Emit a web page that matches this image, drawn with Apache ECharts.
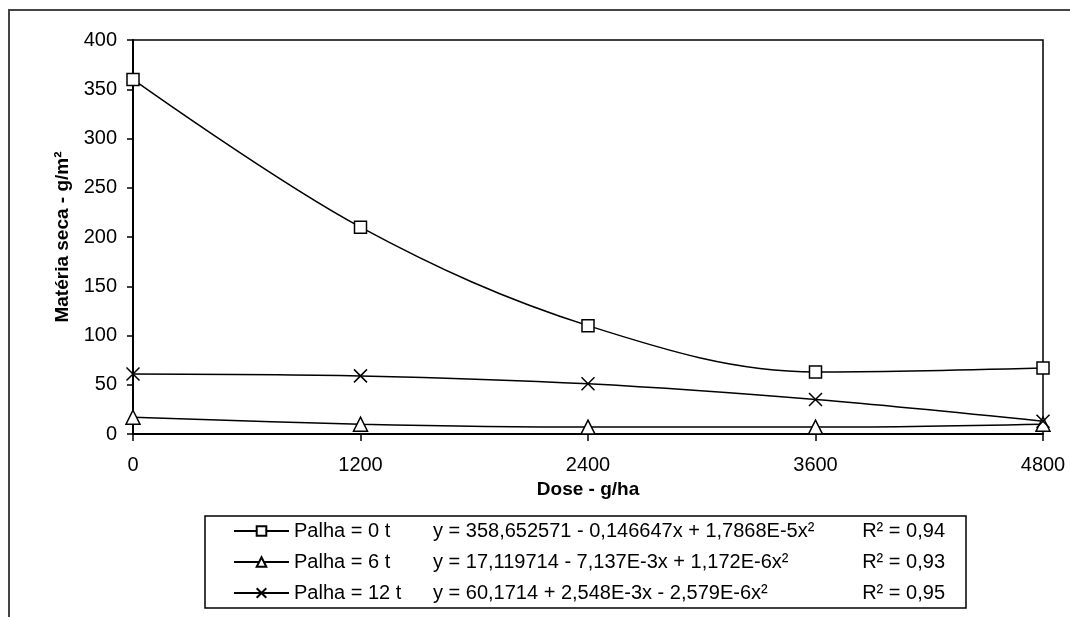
<!DOCTYPE html>
<html>
<head>
<meta charset="utf-8">
<script src="https://cdn.jsdelivr.net/npm/echarts@6/dist/echarts.min.js"></script>
<style>
  html, body { margin: 0; padding: 0; background: #fff; }
  #chart { width: 1070px; height: 617px; }
</style>
</head>
<body>
<div id="chart"></div>
<script>
// doses (g/ha) and dry matter (g/m²)
const doses = [0, 1200, 2400, 3600, 4800];
const palha0 = [360, 210, 110, 63, 67];
const palha6 = [17, 10, 7, 7, 10];
const palha12 = [61, 59, 51, 35, 13];

const names = ['Palha = 0 t', 'Palha = 6 t', 'Palha = 12 t'];
const equations = [
  'y = 358,652571 - 0,146647x + 1,7868E-5x²',
  'y = 17,119714 - 7,137E-3x + 1,172E-6x²',
  'y = 60,1714 + 2,548E-3x - 2,579E-6x²'
];
const r2 = ['R² = 0,94', 'R² = 0,93', 'R² = 0,95'];

const xTicks = [0, 1200, 2400, 3600, 4800];

const font = 'Liberation Sans, Arial, sans-serif';
const pairs = vals => doses.map((d, i) => [d, vals[i]]);

function lineSeries(name, vals, symbol, size) {
  return {
    name: name,
    type: 'line',
    data: pairs(vals),
    smooth: 0.35,
    symbol: symbol,
    symbolSize: size,
    showAllSymbol: true,
    lineStyle: { color: '#000', width: 1.5 },
    itemStyle: { color: '#fff', borderColor: '#000', borderWidth: 1.5 },
    emphasis: { disabled: true },
    z: 3
  };
}

const myChart = echarts.init(document.getElementById('chart'));
myChart.setOption({
  animation: false,
  backgroundColor: '#fff',
  textStyle: { fontFamily: font },
  graphic: [{
    type: 'rect',
    shape: { x: 9, y: 10, width: 1200, height: 800 },
    style: { fill: 'none', stroke: '#444', lineWidth: 2 },
    silent: true
  }],
  grid: {
    left: 133, right: 27, top: 40, bottom: 183,
    show: true, borderColor: '#000', borderWidth: 1.5,
    backgroundColor: 'transparent'
  },
  xAxis: {
    type: 'value',
    min: 0, max: 4800, interval: 1200,
    name: 'Dose - g/ha',
    nameLocation: 'middle',
    nameGap: 45,
    nameTextStyle: { fontSize: 19, fontWeight: 'bold', color: '#000', fontFamily: font },
    axisLine: { show: true, lineStyle: { color: '#000', width: 2 } },
    axisTick: { show: true, length: 7, lineStyle: { color: '#000', width: 1.5 } },
    axisLabel: {
      fontSize: 20, color: '#000', margin: 21, fontFamily: font,
      formatter: v => xTicks.includes(v) ? String(v) : ''
    },
    splitLine: { show: false }
  },
  yAxis: {
    type: 'value',
    min: 0, max: 400, interval: 50,
    name: 'Matéria seca - g/m²',
    nameLocation: 'middle',
    nameGap: 60,
    nameRotate: 90,
    nameTextStyle: { fontSize: 19, fontWeight: 'bold', color: '#000', fontFamily: font },
    axisLine: { show: true, lineStyle: { color: '#000', width: 2 } },
    axisTick: { show: true, length: 6, lineStyle: { color: '#000', width: 1.5 } },
    axisLabel: { fontSize: 20, color: '#000', margin: 16, fontFamily: font },
    splitLine: { show: false }
  },
  legend: {
    data: names,
    orient: 'vertical',
    left: 205,
    top: 516,
    padding: [5, 21, 5, 28],
    itemGap: 11,
    itemWidth: 55,
    itemHeight: 12,
    borderColor: '#000',
    borderWidth: 1.5,
    backgroundColor: '#fff',
    selectedMode: false,
    formatter: name => {
      const i = names.indexOf(name);
      return '{a|' + name + '}{b|' + equations[i] + '}{c|' + r2[i] + '}';
    },
    textStyle: {
      color: '#000', fontFamily: font, fontSize: 20,
      rich: {
        a: { width: 139, fontSize: 20, lineHeight: 22, color: '#000', fontFamily: font },
        b: { width: 402, fontSize: 20, lineHeight: 22, color: '#000', fontFamily: font },
        c: { width: 110, fontSize: 20, lineHeight: 22, color: '#000', fontFamily: font, align: 'right' }
      }
    }
  },
  series: [
    lineSeries(names[0], palha0, 'rect', 12),
    lineSeries(names[1], palha6, 'triangle', 14),
    lineSeries(names[2], palha12, 'path://M0,0L10,10M10,0L0,10', 13)
  ]
});
</script>
</body>
</html>
